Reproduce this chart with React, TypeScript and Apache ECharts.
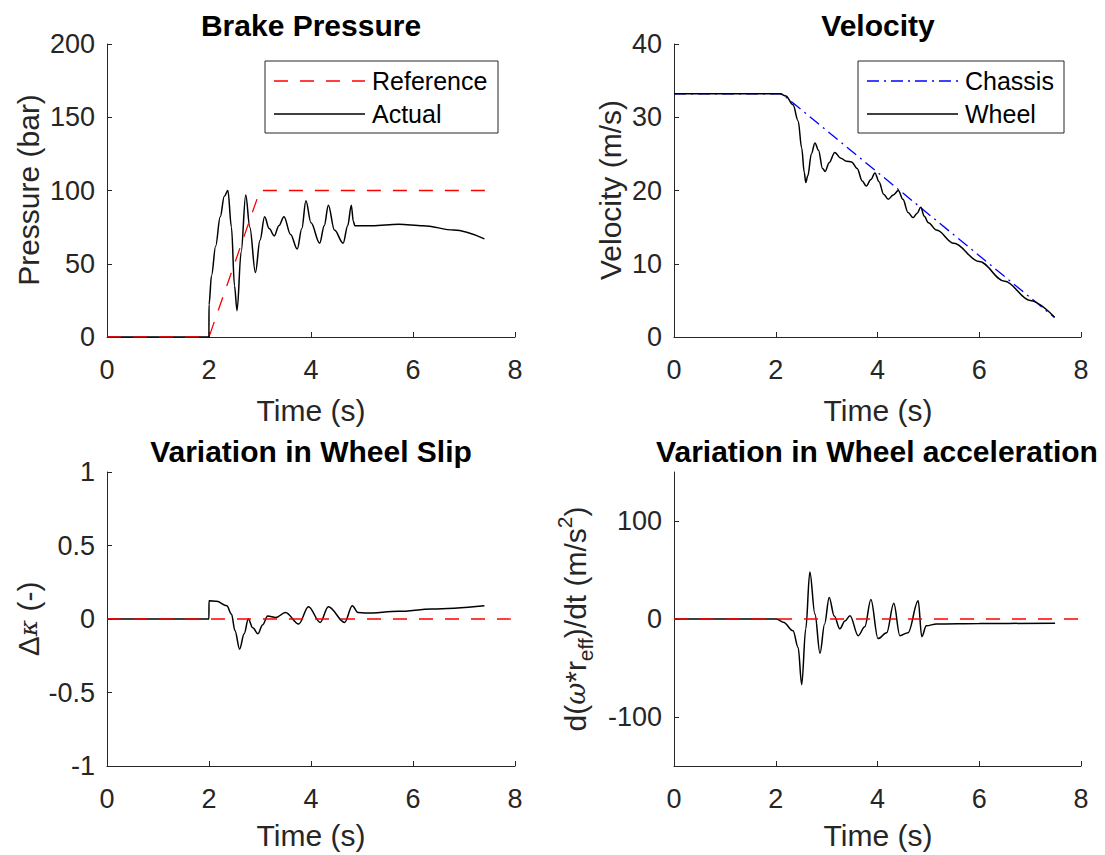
import React, { useEffect, useRef } from "react";
import * as echarts from "echarts";

// ---- Brake pressure ----
const refTime = [0, 2, 3, 7.42];
const refPressure = [0, 0, 100, 100];
const actTime = [0, 1.999, 2.0, 2.05, 2.13, 2.22, 2.3, 2.37, 2.44, 2.5, 2.55, 2.63, 2.72, 2.8, 2.91, 3.0, 3.09, 3.18, 3.28, 3.37, 3.47, 3.6, 3.73, 3.82, 3.9, 4.0, 4.17, 4.26, 4.34, 4.46, 4.63, 4.72, 4.79, 4.83, 4.86, 5.2, 5.72, 6.2, 6.8, 7.4];
const actPressure = [0, 0, 22, 42, 62, 82, 96, 100, 75, 35, 18, 58, 97, 75, 44, 66, 82, 74, 69, 76, 82, 70, 60, 74, 93, 78, 64, 76, 90, 73, 64, 76, 90, 79, 76, 76, 77, 76, 73, 67];

// ---- Velocity ----
const chassisTime = [0, 2.12, 7.48];
const chassisVel = [33.2, 33.2, 2.67];
const wheelTime = [0, 2.08, 2.2, 2.34, 2.44, 2.51, 2.56, 2.59, 2.63, 2.7, 2.77, 2.84, 2.92, 2.97, 3.05, 3.16, 3.28, 3.39, 3.49, 3.6, 3.7, 3.78, 3.87, 3.95, 4.03, 4.12, 4.21, 4.31, 4.41, 4.5, 4.6, 4.7, 4.78, 4.85, 4.92, 5.0, 5.16, 5.5, 6.0, 6.5, 7.0, 7.48];
const wheelVel = [33.2, 33.2, 32.9, 31.7, 29.5, 25.8, 22.5, 21.1, 22.0, 25.0, 26.5, 25.5, 23.0, 22.6, 23.8, 25.2, 24.4, 24.0, 23.9, 23.0, 21.3, 20.6, 21.5, 22.4, 21.2, 19.5, 18.8, 19.4, 20.0, 18.8, 17.0, 16.3, 16.9, 17.7, 16.5, 15.6, 14.6, 12.8, 10.3, 7.6, 5.0, 2.7];

// ---- Wheel slip variation ----
const slipTime = [0, 1.999, 2.0, 2.15, 2.35, 2.44, 2.51, 2.6, 2.69, 2.77, 2.86, 2.96, 3.05, 3.15, 3.31, 3.5, 3.76, 3.95, 4.18, 4.34, 4.66, 4.81, 4.92, 5.08, 5.72, 6.37, 7.4];
const slipValue = [0, 0, 0.125, 0.12, 0.09, 0.034, -0.08, -0.205, -0.1, 0.0, -0.06, -0.1, -0.04, 0.02, 0.01, 0.045, -0.034, 0.084, -0.023, 0.084, -0.023, 0.09, 0.045, 0.04, 0.052, 0.068, 0.09];

// ---- Wheel acceleration variation ----
const accTime = [0, 2.02, 2.15, 2.34, 2.44, 2.51, 2.59, 2.67, 2.77, 2.87, 2.96, 3.05, 3.15, 3.26, 3.36, 3.46, 3.62, 3.75, 3.87, 4.01, 4.18, 4.32, 4.44, 4.6, 4.8, 4.87, 4.96, 5.16, 6.0, 7.49];
const accValue = [0, 0, -3.4, -12, -29, -67, -10, 48, 5, -35, -5, 22, 3, -10, -2, 3.4, -17, -8, 20, -20, -14, 16, -17, -14, 18.5, -18, -7, -5, -4.5, -4.4];

const zeroTime = [0, 8];
const zeroValue = [0, 0];
const accTicks = [-100, 0, 100];

const FONT = "'Liberation Sans', Arial, Helvetica, sans-serif";
const AX = "#262626";
const TICK = 27;
const LBL = 30;

const pairs = (t: number[], v: number[]) => t.map((x, i) => [x, v[i]]);

export default function App() {
  const ref = useRef<HTMLDivElement>(null);
  useEffect(() => {
    if (!ref.current) return;
    const chart = echarts.init(ref.current, undefined, { renderer: "svg" });

    const grids = [
      { left: 107, top: 44, width: 408, height: 293 },
      { left: 674, top: 44, width: 407, height: 293 },
      { left: 107, top: 472, width: 408, height: 294 },
      { left: 674, top: 472, width: 407, height: 294 },
    ];
    const yRanges = [
      { min: 0, max: 200, interval: 50 },
      { min: 0, max: 40, interval: 10 },
      { min: -1, max: 1, interval: 0.5 },
      { min: -150, max: 150, interval: 50 },
    ];

    const axisLine = { show: true, onZero: false, lineStyle: { color: AX, width: 1 } };
    const tickStyle = { show: true, inside: true, length: 5, lineStyle: { color: AX } };

    const xAxis = grids.map((_, i) => ({
      type: "value",
      gridIndex: i,
      min: 0,
      max: 8,
      interval: 2,
      axisLine,
      axisTick: tickStyle,
      splitLine: { show: false },
      axisLabel: { color: AX, fontSize: TICK, fontFamily: FONT, margin: 19 },
    }));
    const yAxis = grids.map((_, i) => ({
      type: "value",
      gridIndex: i,
      min: yRanges[i].min,
      max: yRanges[i].max,
      interval: yRanges[i].interval,
      axisLine,
      splitLine: { show: false },
      axisTick: i === 3 ? { ...tickStyle, customValues: accTicks } : tickStyle,
      axisLabel:
        i === 3
          ? { color: AX, fontSize: TICK, fontFamily: FONT, margin: 12, customValues: accTicks }
          : { color: AX, fontSize: TICK, fontFamily: FONT, margin: 12 },
    }));

    const black = { color: "#000", width: 1.5 };
    const series: any[] = [
      {
        type: "line", xAxisIndex: 0, yAxisIndex: 0, data: pairs(actTime, actPressure),
        showSymbol: false, smooth: 0.35, smoothMonotone: "x", lineStyle: black, z: 2,
      },
      {
        type: "line", xAxisIndex: 0, yAxisIndex: 0, data: pairs(refTime, refPressure),
        showSymbol: false, lineStyle: { color: "#ff0000", width: 1.3, type: [14, 12] }, z: 3,
      },
      {
        type: "line", xAxisIndex: 1, yAxisIndex: 1, data: pairs(chassisTime, chassisVel),
        showSymbol: false, lineStyle: { color: "#0000ff", width: 1.3, type: [12, 5, 2, 5] }, z: 2,
      },
      {
        type: "line", xAxisIndex: 1, yAxisIndex: 1, data: pairs(wheelTime, wheelVel),
        showSymbol: false, smooth: 0.35, smoothMonotone: "x", lineStyle: black, z: 3,
      },
      {
        type: "line", xAxisIndex: 2, yAxisIndex: 2, data: pairs(slipTime, slipValue),
        showSymbol: false, smooth: 0.35, smoothMonotone: "x", lineStyle: black, z: 2,
      },
      {
        type: "line", xAxisIndex: 2, yAxisIndex: 2, data: pairs(zeroTime, zeroValue),
        showSymbol: false, lineStyle: { color: "#ff0000", width: 1.3, type: [14, 12] }, z: 3,
      },
      {
        type: "line", xAxisIndex: 3, yAxisIndex: 3, data: pairs(accTime, accValue),
        showSymbol: false, smooth: 0.35, smoothMonotone: "x", lineStyle: black, z: 2,
      },
      {
        type: "line", xAxisIndex: 3, yAxisIndex: 3, data: pairs(zeroTime, zeroValue),
        showSymbol: false, lineStyle: { color: "#ff0000", width: 1.3, type: [14, 12] }, z: 3,
      },
    ];

    const txt = (text: string, x: number, y: number, size: number, bold = false, color = AX, extra: any = {}) => ({
      type: "text",
      x,
      y,
      ...extra,
      style: {
        text,
        fontSize: size,
        fontWeight: bold ? "bold" : "normal",
        fontFamily: FONT,
        fill: color,
        align: "center",
        verticalAlign: "middle",
      },
    });

    const legend = (x: number, y: number, w: number, h: number, items: { label: string; color: string; dash: any }[]) => {
      const els: any[] = [
        { type: "rect", shape: { x, y, width: w, height: h }, style: { fill: "#fff", stroke: AX, lineWidth: 1 }, z: 100 },
      ];
      items.forEach((it, k) => {
        const ly = y + 20 + k * 33;
        els.push({
          type: "line",
          shape: { x1: x + 9, y1: ly, x2: x + 100, y2: ly },
          style: { stroke: it.color, lineWidth: it.color === "#000" ? 1.5 : 1.3, lineDash: it.dash },
          z: 101,
        });
        els.push({
          type: "text",
          x: x + 107,
          y: ly,
          z: 101,
          style: { text: it.label, fontSize: 25, fontFamily: FONT, fill: "#000", align: "left", verticalAlign: "middle" },
        });
      });
      return els;
    };

    const graphic: any[] = [
      txt("Brake Pressure", 311, 25, LBL, true, "#000"),
      txt("Velocity", 878, 25, LBL, true, "#000"),
      txt("Variation in Wheel Slip", 311, 451, LBL, true, "#000"),
      txt("Variation in Wheel acceleration", 877, 451, LBL, true, "#000"),
      txt("Time (s)", 311, 410, LBL),
      txt("Time (s)", 878, 410, LBL),
      txt("Time (s)", 311, 835, LBL),
      txt("Time (s)", 878, 835, LBL),
      txt("Pressure (bar)", 28, 190, LBL, false, AX, { rotation: Math.PI / 2 }),
      txt("Velocity (m/s)", 610, 190, LBL, false, AX, { rotation: Math.PI / 2 }),
      {
        type: "text",
        x: 28,
        y: 619,
        rotation: Math.PI / 2,
        style: {
          text: "Δ{k|κ} (-)",
          fontSize: LBL,
          fontFamily: FONT,
          fill: AX,
          align: "center",
          verticalAlign: "middle",
          rich: {
            k: { fontSize: 25, fontStyle: "italic", fontFamily: "'DejaVu Serif', serif", fill: AX },
          },
        },
      },
      {
        type: "text",
        x: 575,
        y: 619,
        rotation: Math.PI / 2,
        style: {
          text: "{n|d(}{g|ω}{n|*r}{sub|eff}{n|)/dt (m/s}{sup|2}{n|)}",
          fontSize: LBL,
          fontFamily: FONT,
          fill: AX,
          align: "center",
          verticalAlign: "middle",
          rich: {
            n: { fontSize: LBL, fontFamily: FONT, fill: AX, lineHeight: 42 },
            g: { fontSize: 27, fontStyle: "italic", fontFamily: "'DejaVu Serif', serif", fill: AX, lineHeight: 42 },
            sub: { fontSize: 21, fontFamily: FONT, fill: AX, lineHeight: 21, verticalAlign: "bottom" },
            sup: { fontSize: 21, fontFamily: FONT, fill: AX, lineHeight: 21, verticalAlign: "top" },
          },
        },
      },
      ...legend(265, 61, 233, 72, [
        { label: "Reference", color: "#ff0000", dash: [14, 12] },
        { label: "Actual", color: "#000", dash: null },
      ]),
      ...legend(858, 61, 206, 72, [
        { label: "Chassis", color: "#0000ff", dash: [12, 5, 2, 5] },
        { label: "Wheel", color: "#000", dash: null },
      ]),
    ];

    chart.setOption({
      animation: false,
      backgroundColor: "#fff",
      grid: grids,
      xAxis,
      yAxis,
      series,
      graphic,
    });
    return () => chart.dispose();
  }, []);

  return (
    <div
      ref={ref}
      style={{ position: "fixed", left: 0, top: 0, width: 1105, height: 855, background: "#fff" }}
    />
  );
}
